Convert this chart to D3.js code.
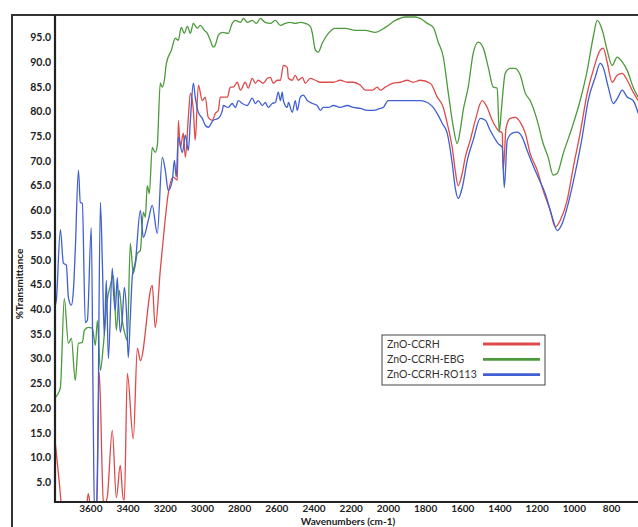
<!DOCTYPE html>
<html>
<head>
<meta charset="utf-8">
<script src="https://cdn.jsdelivr.net/npm/d3@7"></script>
<style>
  body { margin: 0; background: #fff; }
  #chart { width: 638px; height: 527px; }
  .tick text { font-family: Lato, "Liberation Sans", sans-serif; font-weight: bold; font-size: 10.5px; fill: #222; }
  .x-axis .tick text { font-size: 10px; }
</style>
</head>
<body>
<div id="chart"></div>
<script>
// [wavenumber, %T]
const ccrh = [
  [3788, 12.8], [3767, 5], [3750, -1], [3700, -2], [3640, -1], [3621, 0], [3611, 2.7], [3600, 0],
  [3589, -2], [3568, -2], [3557, 20], [3552, 27.2], [3530, 1.3], [3519, 1], [3509, 2], [3482, 15.5],
  [3460, 1.9], [3439, 8.4], [3423, 1.5], [3417, 1.5], [3401, 27.0], [3369, 13.8], [3347, 32.1],
  [3331, 29.6], [3267, 44.8], [3251, 36.3], [3224, 47.8], [3207, 54.5], [3181, 63.4], [3154, 66.7],
  [3132, 66.1], [3127, 78.2], [3116, 72.7], [3100, 75.6], [3089, 70.7], [3073, 78.8], [3062, 83.7],
  [3046, 80.2], [3036, 74.2], [3019, 85.3], [2998, 82.2], [2982, 82.9], [2966, 78.8], [2944, 78.2],
  [2928, 79.6], [2912, 80.2], [2901, 82.9], [2890, 82.9], [2863, 82.9], [2847, 84.9], [2831, 84.9],
  [2810, 85.9], [2793, 84.3], [2767, 85.9], [2751, 84.7], [2729, 86.7], [2713, 85.7], [2697, 86.3],
  [2670, 85.7], [2648, 86.7], [2632, 86.9], [2616, 85.7], [2595, 86.3], [2578, 86.3], [2562, 89.3],
  [2541, 88.9], [2535, 86.7], [2514, 86.3], [2498, 87.3], [2482, 86.3], [2460, 86.9], [2444, 85.7],
  [2417, 86.7], [2390, 86.3], [2363, 85.9], [2326, 85.9], [2293, 85.9], [2256, 86.3], [2218, 85.9],
  [2186, 85.9], [2148, 85.3], [2121, 84.3], [2084, 84.3], [2057, 84.9], [2041, 84.3], [2014, 84.9],
  [1971, 85.7], [1933, 85.9], [1896, 86.3], [1864, 85.9], [1826, 86.3], [1772, 85.7], [1734, 82.9],
  [1702, 80.8], [1681, 77.6], [1654, 72.7], [1638, 68.1], [1622, 65.0], [1600, 67.5], [1584, 70.7],
  [1557, 74.2], [1530, 78.2], [1493, 82.2], [1466, 80.8], [1439, 78.2], [1407, 76.2], [1385, 75.6],
  [1380, 68.1], [1364, 76.8], [1342, 78.6], [1315, 78.8], [1288, 77.8], [1261, 75.6], [1235, 71.5],
  [1197, 68.1], [1165, 64.0], [1127, 60.0], [1100, 56.6], [1073, 58.0], [1036, 62.0], [1003, 68.7],
  [966, 75.6], [928, 83.7], [896, 88.3], [858, 92.4], [842, 92.8], [821, 90.0], [794, 85.9],
  [767, 87.3], [740, 87.7], [713, 86.3], [681, 83.9], [654, 82.2]
];

const ccrhEbg = [
  [3788, 22.1], [3777, 22.7], [3761, 24.2], [3740, 42.2], [3718, 33.1], [3702, 34.1], [3681, 25.6],
  [3664, 33.1], [3643, 33.3], [3632, 35.7], [3611, 36.3], [3589, 36.1], [3573, 32.7], [3562, 37.7],
  [3546, 27.6], [3530, 32.7], [3509, 41.8], [3492, 44.8], [3476, 46.8], [3460, 35.7], [3444, 43.8],
  [3428, 37.7], [3412, 34.7], [3401, 33.7], [3385, 53.3], [3369, 47.2], [3347, 51.3], [3331, 51.9],
  [3315, 59.6], [3304, 58.6], [3294, 65.0], [3283, 63.4], [3267, 72.7], [3251, 71.7], [3240, 73.1],
  [3224, 85.7], [3213, 84.9], [3202, 86.3], [3191, 89.7], [3164, 92.4], [3143, 94.8], [3127, 94.4],
  [3111, 97.0], [3095, 95.8], [3078, 97.2], [3062, 95.8], [3046, 97.8], [3025, 96.8], [3009, 97.4],
  [2987, 96.4], [2971, 95.8], [2955, 94.4], [2939, 93.0], [2928, 93.4], [2912, 95.4], [2890, 96.0],
  [2858, 95.8], [2837, 97.8], [2820, 98.4], [2793, 98.0], [2777, 98.8], [2756, 98.0], [2729, 98.4],
  [2707, 97.8], [2686, 98.8], [2659, 98.0], [2632, 97.8], [2605, 98.4], [2578, 97.4], [2552, 97.8],
  [2525, 98.0], [2498, 97.8], [2471, 98.0], [2444, 97.8], [2417, 97.2], [2406, 95.8], [2390, 92.4],
  [2374, 92.0], [2353, 93.8], [2320, 95.8], [2283, 96.8], [2229, 96.8], [2175, 96.4], [2121, 96.4],
  [2068, 96.0], [2014, 97.0], [1960, 98.4], [1906, 99.1], [1853, 99.1], [1826, 98.8], [1788, 97.8],
  [1756, 97.0], [1729, 94.0], [1702, 91.0], [1675, 83.7], [1648, 76.8], [1627, 73.5], [1611, 76.2],
  [1595, 80.2], [1568, 84.9], [1541, 91.8], [1514, 94.0], [1487, 92.8], [1460, 88.9], [1433, 84.9],
  [1412, 84.7], [1401, 75.8], [1390, 80.2], [1369, 87.7], [1342, 88.7], [1315, 88.7], [1288, 87.3],
  [1261, 83.7], [1235, 82.2], [1197, 78.2], [1165, 73.5], [1138, 70.7], [1111, 67.1], [1089, 67.5],
  [1057, 71.5], [1009, 76.8], [966, 82.2], [928, 88.3], [896, 95.0], [874, 98.4], [847, 96.4],
  [821, 92.4], [794, 89.3], [767, 91.0], [740, 90.0], [713, 88.3], [681, 84.9], [654, 82.9]
];

const ccrhRo113 = [
  [3788, 40.8], [3783, 41.8], [3761, 56.1], [3745, 49.3], [3729, 48.9], [3718, 42.4], [3702, 40.8],
  [3691, 43.8], [3681, 51.9], [3664, 68.1], [3654, 61.6], [3643, 61.4], [3627, 37.3], [3616, 37.7],
  [3595, 56.5], [3584, 17], [3578, -1], [3568, -1], [3562, 5], [3546, 61.6], [3535, 48.9],
  [3525, 34.7], [3514, 45.8], [3503, 30.0], [3482, 48.3], [3476, 43.8], [3466, 39.7], [3455, 46.4],
  [3449, 41.8], [3439, 35.3], [3428, 38.3], [3417, 44.4], [3406, 39.7], [3396, 30.2], [3385, 38.3],
  [3374, 46.8], [3358, 49.5], [3331, 60.0], [3315, 54.5], [3288, 58.0], [3267, 61.0], [3240, 55.3],
  [3213, 70.7], [3197, 68.1], [3181, 64.0], [3159, 66.1], [3148, 70.1], [3138, 66.7], [3127, 74.8],
  [3105, 71.7], [3089, 75.2], [3073, 72.1], [3062, 78.2], [3046, 85.7], [3036, 82.9], [3019, 79.8],
  [2998, 78.6], [2982, 77.2], [2966, 76.8], [2939, 78.2], [2912, 78.6], [2890, 80.2], [2885, 81.2],
  [2858, 80.8], [2837, 81.6], [2820, 80.8], [2804, 82.2], [2783, 81.6], [2756, 81.2], [2729, 82.7],
  [2713, 81.6], [2697, 82.2], [2675, 81.2], [2659, 81.8], [2643, 80.8], [2622, 81.6], [2605, 81.8],
  [2589, 83.9], [2578, 82.2], [2568, 83.9], [2562, 82.2], [2541, 80.8], [2535, 81.8], [2514, 79.8],
  [2498, 82.2], [2487, 80.2], [2471, 82.9], [2455, 83.3], [2433, 82.2], [2406, 81.6], [2380, 81.2],
  [2363, 80.2], [2347, 80.8], [2320, 80.8], [2293, 81.2], [2256, 80.8], [2218, 81.2], [2186, 80.8],
  [2148, 80.6], [2111, 80.2], [2078, 80.2], [2041, 80.6], [2025, 80.8], [1998, 82.2], [1971, 82.2],
  [1896, 82.2], [1826, 82.2], [1788, 81.8], [1756, 80.8], [1729, 79.2], [1708, 77.6], [1681, 75.6],
  [1654, 69.5], [1638, 64.6], [1622, 62.4], [1600, 64.6], [1573, 70.1], [1541, 74.2], [1503, 78.6],
  [1476, 78.2], [1450, 76.2], [1407, 73.5], [1385, 72.7], [1374, 64.6], [1358, 74.2], [1331, 75.6],
  [1304, 75.8], [1278, 74.8], [1251, 72.1], [1224, 69.5], [1192, 66.7], [1154, 63.4], [1116, 58.6],
  [1089, 55.9], [1062, 57.4], [1030, 61.4], [993, 67.5], [955, 74.8], [923, 82.2], [885, 86.9],
  [858, 89.7], [842, 88.9], [815, 84.9], [788, 81.6], [762, 82.9], [740, 84.3], [713, 82.9],
  [681, 82.2], [654, 79.6]
];

const seriesNames = ["ZnO-CCRH", "ZnO-CCRH-EBG", "ZnO-CCRH-RO113"];
const seriesColors = ["#de4a4a", "#4c9a3c", "#3f5fd2"];
const xTicks = [3600, 3400, 3200, 3000, 2800, 2600, 2400, 2200, 2000, 1800, 1600, 1400, 1200, 1000, 800];
const yTicks = [5, 10, 15, 20, 25, 30, 35, 40, 45, 50, 55, 60, 65, 70, 75, 80, 85, 90, 95];

const plot = { left: 55, right: 638, top: 15, bottom: 502 };

const svg = d3.select("#chart").append("svg")
  .attr("width", 638)
  .attr("height", 527);

const x = d3.scaleLinear().domain([3790, 655]).range([plot.left, plot.right]);
const y = d3.scaleLinear().domain([1, 99.5]).range([plot.bottom, plot.top]);

svg.append("clipPath").attr("id", "clip")
  .append("rect")
  .attr("x", plot.left).attr("y", plot.top)
  .attr("width", plot.right - plot.left).attr("height", plot.bottom - plot.top);

// outer frame
svg.append("path")
  .attr("d", `M12,540 V15 H640`)
  .attr("fill", "none").attr("stroke", "#333").attr("stroke-width", 2);

const line = d3.line()
  .x(d => x(d[0]))
  .y(d => y(d[1]))
  .curve(d3.curveMonotoneX);

const g = svg.append("g").attr("clip-path", "url(#clip)");
[ccrh, ccrhEbg, ccrhRo113].forEach((data, i) => {
  g.append("path")
    .datum(data)
    .attr("d", line)
    .attr("fill", "none")
    .attr("stroke", seriesColors[i])
    .attr("stroke-width", 1.3)
    .attr("stroke-linejoin", "round");
});

// axes
const xAxis = d3.axisBottom(x).tickValues(xTicks).tickSize(0).tickPadding(3).tickFormat(d3.format("d"));
svg.append("g")
  .attr("class", "x-axis")
  .attr("transform", `translate(0,${plot.bottom})`)
  .call(xAxis)
  .call(s => s.select(".domain").remove());

const yAxis = d3.axisLeft(y).tickValues(yTicks).tickSize(0).tickPadding(4).tickFormat(d3.format(".1f"));
svg.append("g")
  .attr("transform", `translate(${plot.left},0)`)
  .call(yAxis)
  .call(s => s.select(".domain").remove());

svg.append("path")
  .attr("d", `M${plot.left},${plot.top} V${plot.bottom} H640`)
  .attr("fill", "none").attr("stroke", "#222").attr("stroke-width", 2.2);

svg.append("text")
  .attr("x", 348).attr("y", 525)
  .attr("text-anchor", "middle")
  .style("font-family", "Lato, sans-serif").style("font-weight", "bold").style("font-size", "10px")
  .attr("fill", "#222")
  .text("Wavenumbers (cm-1)");

svg.append("text")
  .attr("transform", "translate(23,284) rotate(-90)")
  .attr("text-anchor", "middle")
  .style("font-family", "Lato, sans-serif").style("font-weight", "bold").style("font-size", "10px")
  .attr("fill", "#222")
  .text("%Transmittance");

// legend
const legend = svg.append("g");
legend.append("rect")
  .attr("x", 382).attr("y", 335).attr("width", 163).attr("height", 50)
  .attr("fill", "#fff").attr("stroke", "#444").attr("stroke-width", 1);
seriesNames.forEach((name, i) => {
  const ly = 344 + i * 15.3;
  legend.append("text")
    .attr("x", 387).attr("y", ly + 3.5)
    .style("font-family", "Lato, sans-serif").style("font-size", "10.5px")
    .attr("fill", "#333")
    .text(name);
  legend.append("line")
    .attr("x1", 483).attr("x2", 540).attr("y1", ly).attr("y2", ly)
    .attr("stroke", seriesColors[i]).attr("stroke-width", 2.8);
});
</script>
</body>
</html>
